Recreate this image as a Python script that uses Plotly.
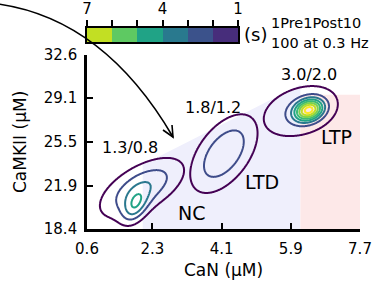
import numpy as np
import plotly.graph_objects as go

# ---------------- data ----------------
x_tick_vals = [0.6, 2.3, 4.1, 5.9, 7.7]
x_tick_text = ["0.6", "2.3", "4.1", "5.9", "7.7"]
y_tick_vals = [18.4, 21.9, 25.5, 29.1, 32.6]
y_tick_text = ["18.4", "21.9", "25.5", "29.1", "32.6"]

# density components (approximate KDE of each outcome cluster)
comp_group = ["NC", "NC", "LTD", "LTP", "LTP"]
comp_x = [2.03, 1.85, 4.16, 6.13, 6.37]
comp_y = [21.75, 20.2, 24.55, 28.0, 28.11]
comp_sdx = [0.75, 0.23, 0.60, 0.86, 0.252]
comp_sdy = [1.68, 0.95, 2.2, 1.85, 0.606]
comp_rho = [0.585, 0.41, 0.52, 0.3, 0.228]
comp_peak = [2.9, 2.27, 2.9, 1.8, 6.8]

contour_levels = [1, 2, 3, 4, 5, 6, 7, 8]
level_colors = ["#440154", "#3e4c8a", "#2a788e", "#21a386",
                "#3bbb75", "#7ad151", "#bddf26", "#fde725"]

cluster_names = ["NC", "LTD", "LTP"]
name_label_x = [3.33, 5.15, 7.08]
name_label_y = [19.71, 22.24, 25.91]
ratio_labels = ["1.3/0.8", "1.8/1.2", "3.0/2.0"]
ratio_label_x = [1.72, 3.88, 6.37]
ratio_label_y = [25.09, 28.28, 30.97]

# shaded regions
ltd_region_x = [2.05, 2.05, 6.15, 6.15]
ltd_region_y = [18.4, 23.65, 30.18, 18.4]
ltp_region_x = [6.15, 7.7]
ltp_region_y = [18.4, 29.35]

# colour bar (time, s)
cbar_bins = [6.5, 5.5, 4.5, 3.5, 2.5, 1.5]
cbar_colors = ["#c2df23", "#5ec962", "#20a386", "#29798e", "#3b528b", "#472d7b"]
cbar_tick_vals = [1, 2, 3, 4, 5, 6, 7]
cbar_tick_text = ["1", "", "", "4", "", "", "7"]

# ---------------- figure ----------------
W, H = 375, 284
ML, MR, MT, MB = 87, 15, 20, 55
PW, PH = W - ML - MR, H - MT - MB


def px2paper(px, py):
    return (px - ML) / PW, (H - MB - py) / PH


FONT = "DejaVu Sans"
fig = go.Figure()

xg = np.linspace(0.6, 7.7, 420)
yg = np.linspace(18.4, 32.6, 420)
XX, YY = np.meshgrid(xg, yg)

n_lv = len(contour_levels)
cscale = [[i / (n_lv - 1), c] for i, c in enumerate(level_colors)]

for name in cluster_names:
    Z = np.zeros_like(XX)
    for g, cx, cy, sx, sy, r, pk in zip(comp_group, comp_x, comp_y, comp_sdx,
                                        comp_sdy, comp_rho, comp_peak):
        if g != name:
            continue
        dx = (XX - cx) / sx
        dy = (YY - cy) / sy
        q = (dx * dx - 2 * r * dx * dy + dy * dy) / (1 - r * r)
        Z += pk * np.exp(-q / 2)
    fig.add_trace(go.Contour(
        x=xg, y=yg, z=Z, autocontour=False,
        contours=dict(start=contour_levels[0], end=contour_levels[-1], size=1,
                      coloring="lines"),
        colorscale=cscale, zmin=contour_levels[0], zmax=contour_levels[-1],
        line=dict(width=2), showscale=False, hoverinfo="skip",
        xaxis="x", yaxis="y"))

# colour bar as a small heatmap
cb_scale = [[i / (len(cbar_colors) - 1), c] for i, c in enumerate(cbar_colors)]
fig.add_trace(go.Heatmap(
    x=cbar_bins, y=[0], z=[list(range(len(cbar_bins)))],
    colorscale=cb_scale, zmin=0, zmax=len(cbar_bins) - 1,
    showscale=False, hoverinfo="skip", xaxis="x2", yaxis="y2"))

shapes = []
# regions
path = "M " + " L ".join(f"{a},{b}" for a, b in zip(ltd_region_x, ltd_region_y)) + " Z"
shapes.append(dict(type="path", path=path, xref="x", yref="y",
                   fillcolor="#efeffc", line=dict(width=0), layer="below"))
shapes.append(dict(type="rect", x0=ltp_region_x[0], x1=ltp_region_x[1],
                   y0=ltp_region_y[0], y1=ltp_region_y[1], xref="x", yref="y",
                   fillcolor="#fde8e8", line=dict(width=0), layer="below"))

# curved arrow from the colour bar to the plot
p0 = px2paper(-2, 4)
c1 = px2paper(104, 19)
p2 = px2paper(173, 137)
shapes.append(dict(type="path", xref="paper", yref="paper",
                   path=f"M {p0[0]},{p0[1]} Q {c1[0]},{c1[1]} {p2[0]},{p2[1]}",
                   line=dict(color="black", width=1.6)))
h1 = px2paper(172, 125)
h2 = px2paper(163, 130)
shapes.append(dict(type="path", xref="paper", yref="paper",
                   path=f"M {h1[0]},{h1[1]} L {p2[0]},{p2[1]} L {h2[0]},{h2[1]}",
                   line=dict(color="black", width=1.6)))

annotations = []


def ann(text, x, y, ref, size, **kw):
    d = dict(text=text, x=x, y=y, xref=ref[0], yref=ref[1], showarrow=False,
             xanchor="center", yanchor="middle",
             font=dict(size=size, color="black", family=FONT))
    d.update(kw)
    annotations.append(d)


for t, x, y in zip(ratio_labels, ratio_label_x, ratio_label_y):
    ann(t, x, y, ("x", "y"), 16)
for t, x, y in zip(cluster_names, name_label_x, name_label_y):
    ann(t, x, y, ("x", "y"), 19)

# axis titles
ax_, ay_ = px2paper(20, 142)
ann("CaMKII (μM)", ax_, ay_, ("paper", "paper"), 17, textangle=-90)
bx_, by_ = px2paper(223, 270)
ann("CaN (μM)", bx_, by_, ("paper", "paper"), 17)
# colour bar labels
sx_, sy_ = px2paper(255, 34)
ann("(s)", sx_, sy_, ("paper", "paper"), 18)
t1x, t1y = px2paper(269, 23)
ann("1Pre1Post10", t1x, t1y, ("paper", "paper"), 14.5, xanchor="left")
t2x, t2y = px2paper(269, 43)
ann("100 at 0.3 Hz", t2x, t2y, ("paper", "paper"), 14.5, xanchor="left")

main_top = (H - MB - 55) / PH
cb_x1 = (238 - ML) / PW
cb_y0 = (H - MB - 42) / PH
cb_y1 = (H - MB - 28) / PH

fig.update_layout(
    width=W, height=H, margin=dict(l=ML, r=MR, t=MT, b=MB, autoexpand=False),
    paper_bgcolor="white", plot_bgcolor="white",
    font=dict(family=FONT, color="black", size=15),
    showlegend=False, shapes=shapes, annotations=annotations,
    xaxis=dict(domain=[0, 1], range=[0.6, 7.7], tickvals=x_tick_vals,
               ticktext=x_tick_text, ticks="inside", ticklen=6, tickwidth=2,
               tickcolor="black", showline=True, linewidth=2.6, linecolor="black",
               showgrid=False, zeroline=False, ticklabelstandoff=4,
               tickfont=dict(size=15), anchor="y", automargin=False),
    yaxis=dict(domain=[0, main_top], range=[18.4, 32.6], tickvals=y_tick_vals,
               ticktext=y_tick_text, ticks="inside", ticklen=6, tickwidth=2,
               tickcolor="black", showline=True, linewidth=2.6, linecolor="black",
               showgrid=False, zeroline=False, ticklabelstandoff=4,
               tickfont=dict(size=15), anchor="x", automargin=False),
    xaxis2=dict(domain=[0, cb_x1], range=[7, 1], side="top", anchor="y2",
                tickvals=cbar_tick_vals, ticktext=cbar_tick_text, ticks="outside",
                ticklen=6, tickwidth=2, tickcolor="black", showline=True,
                mirror=True, linewidth=2, linecolor="black", showgrid=False,
                zeroline=False, tickfont=dict(size=15), automargin=False),
    yaxis2=dict(domain=[cb_y0, cb_y1], range=[-0.5, 0.5], anchor="x2",
                showticklabels=False, ticks="", showline=True, mirror=True,
                linewidth=2, linecolor="black", showgrid=False, zeroline=False,
                automargin=False),
)

fig.write_html("out.html", config={"displayModeBar": False},
               post_script="document.body.style.margin='0';"
                           "document.body.style.padding='0';")
